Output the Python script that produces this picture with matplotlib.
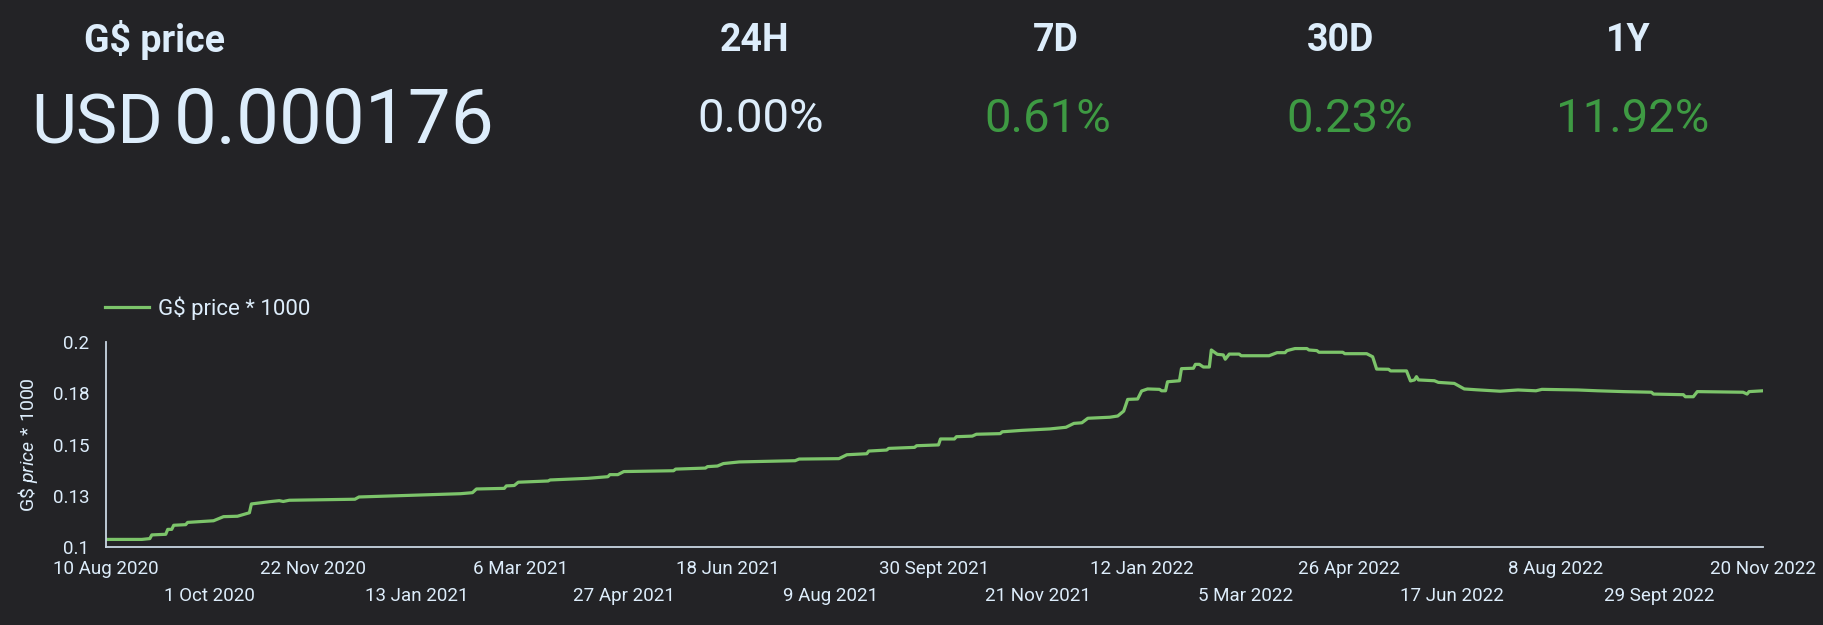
import numpy as np
import matplotlib
matplotlib.use("Agg")
import matplotlib.pyplot as plt

# ---- data ----
start_date = np.datetime64("2020-08-10")
day_offset = [0, 18, 22, 23, 30, 31, 33, 34, 40, 41, 54, 59, 66, 72, 73, 82, 87, 89, 92,
              125, 127, 178, 184, 186, 200, 201, 205, 207, 222, 223, 242, 252, 253, 257,
              260, 285, 286, 301, 302, 307, 310, 318, 346, 348, 368, 372, 382, 383, 392,
              393, 406, 407, 418, 419, 426, 427, 435, 437, 449, 450, 460, 474, 482, 486,
              490, 493, 504, 508, 511, 513, 518, 520, 523, 529, 530, 532, 533, 539, 540,
              546, 547, 549, 551, 554, 555, 558, 561, 562, 564, 569, 570, 584, 588, 592,
              593, 597, 603, 604, 608, 609, 621, 622, 633, 636, 638, 644, 645, 653, 655,
              657, 658, 659, 667, 669, 677, 679, 682, 688, 700, 709, 718, 721, 739, 749,
              762, 776, 777, 792, 793, 797, 799, 822, 824, 825, 832]
price_x1000 = [0.1037, 0.1037, 0.1041, 0.1059, 0.1062, 0.1086, 0.1086, 0.1106, 0.1109,
               0.1120, 0.1128, 0.1148, 0.1150, 0.1167, 0.1210, 0.1221, 0.1226, 0.1222,
               0.1228, 0.1233, 0.1244, 0.1260, 0.1265, 0.1283, 0.1286, 0.1298, 0.1300,
               0.1316, 0.1322, 0.1327, 0.1335, 0.1343, 0.1353, 0.1353, 0.1368, 0.1372,
               0.1380, 0.1385, 0.1392, 0.1395, 0.1407, 0.1415, 0.1421, 0.1429, 0.1431,
               0.1450, 0.1455, 0.1468, 0.1473, 0.1481, 0.1486, 0.1494, 0.1498, 0.1527,
               0.1527, 0.1538, 0.1541, 0.1550, 0.1553, 0.1562, 0.1569, 0.1576, 0.1584,
               0.1603, 0.1606, 0.1628, 0.1633, 0.1639, 0.1663, 0.1720, 0.1722, 0.1761,
               0.1771, 0.1769, 0.1762, 0.1762, 0.1806, 0.1811, 0.1870, 0.1872, 0.1891,
               0.1891, 0.1878, 0.1878, 0.1961, 0.1940, 0.1937, 0.1916, 0.1941, 0.1941,
               0.1933, 0.1933, 0.1948, 0.1948, 0.1958, 0.1968, 0.1968, 0.1961, 0.1958,
               0.1950, 0.1950, 0.1943, 0.1943, 0.1928, 0.1868, 0.1867, 0.1859, 0.1859,
               0.1810, 0.1815, 0.1831, 0.1815, 0.1811, 0.1803, 0.1798, 0.1787, 0.1771,
               0.1767, 0.1760, 0.1766, 0.1762, 0.1769, 0.1766, 0.1762, 0.1758, 0.1755,
               0.1746, 0.1743, 0.1733, 0.1733, 0.1758, 0.1755, 0.1746, 0.1758, 0.1762]

tick_dates = ["2020-08-10", "2020-10-01", "2020-11-22", "2021-01-13", "2021-03-06",
              "2021-04-27", "2021-06-18", "2021-08-09", "2021-09-30", "2021-11-21",
              "2022-01-12", "2022-03-05", "2022-04-26", "2022-06-17", "2022-08-08",
              "2022-09-29", "2022-11-20"]
tick_labels = ["10 Aug 2020", "1 Oct 2020", "22 Nov 2020", "13 Jan 2021", "6 Mar 2021",
               "27 Apr 2021", "18 Jun 2021", "9 Aug 2021", "30 Sept 2021", "21 Nov 2021",
               "12 Jan 2022", "5 Mar 2022", "26 Apr 2022", "17 Jun 2022", "8 Aug 2022",
               "29 Sept 2022", "20 Nov 2022"]
y_ticks = [0.1, 0.125, 0.15, 0.175, 0.2]
y_labels = ["0.1", "0.13", "0.15", "0.18", "0.2"]

header_titles = ["24H", "7D", "30D", "1Y"]
header_values = ["0.00%", "0.61%", "0.23%", "11.92%"]
currency = "USD"
current_price = "0.000176"

# ---- style ----
BG = "#232326"
TXT = "#ddedfb"
GREEN_TXT = "#3e9a43"
LINE = "#7cc46a"
AXIS = "#c9d6e3"

plt.rcParams['font.family'] = ['Roboto', 'DejaVu Sans']
plt.rcParams['mathtext.fontset'] = 'custom'
plt.rcParams['mathtext.rm'] = 'Roboto'
plt.rcParams['mathtext.it'] = 'Roboto:italic'

W, H = 1824, 625
fig = plt.figure(figsize=(W / 100, H / 100), dpi=100, facecolor=BG)

def fx(px):
    return px / W

def fy(py):
    return 1 - py / H

# header
fig.text(fx(155), fy(52), "G$ price", ha="center", va="baseline", fontsize=27,
         fontweight="bold", color=TXT)
fig.text(fx(163), fy(143), currency, ha="right", va="baseline", fontsize=50, color=TXT)
fig.text(fx(174), fy(143), current_price, ha="left", va="baseline", fontsize=55,
         color=TXT)
title_x = [755, 1056, 1341, 1628]
value_x = [761, 1048, 1350, 1633]
for i in range(len(header_titles)):
    fig.text(fx(title_x[i]), fy(51), header_titles[i], ha="center", va="baseline",
             fontsize=27, fontweight="bold", color=TXT)
    col = TXT if header_values[i] == "0.00%" else GREEN_TXT
    fig.text(fx(value_x[i]), fy(132), header_values[i], ha="center", va="baseline",
             fontsize=34, color=col)

# chart
ax_w = fx(1763) - fx(106)
ax = fig.add_axes([fx(106), fy(547), ax_w, fy(342) - fy(547)])
ax.set_facecolor(BG)
dates = start_date + np.array(day_offset).astype("timedelta64[D]")
ax.plot(dates, price_x1000, color=LINE, lw=2.3, label="G$ price * 1000")

ax.set_ylim(0.1, 0.2)
ax.set_xlim(np.datetime64(tick_dates[0]), np.datetime64(tick_dates[-1]))
ax.set_yticks(y_ticks)
ax.set_yticklabels(y_labels)

td = [np.datetime64(d) for d in tick_dates]
ax.set_xticks(td[0::2])
ax.set_xticklabels(tick_labels[0::2])
ax.set_xticks(td[1::2], minor=True)
ax.set_xticklabels(tick_labels[1::2], minor=True)

ax.tick_params(axis="x", which="major", length=0, pad=9, labelsize=13.5, colors=TXT)
ax.tick_params(axis="x", which="minor", length=0, pad=29, labelsize=13.5, colors=TXT)
ax.tick_params(axis="y", length=0, pad=12, labelsize=13.5, colors=TXT)

for s in ["top", "right"]:
    ax.spines[s].set_visible(False)
for s in ["left", "bottom"]:
    ax.spines[s].set_color(AXIS)
    ax.spines[s].set_linewidth(1.3)

ax.set_ylabel(r"G\$ $\mathit{price\ {*}\ 1000}$", fontsize=14, color=TXT)
ax.yaxis.set_label_coords((fx(40) - fx(106)) / ax_w, 0.5)

fig.legend(loc="center left", bbox_to_anchor=(fx(105), fy(308)), frameon=False,
           fontsize=16, labelcolor=TXT, handlelength=2.0, handletextpad=0.4,
           borderpad=0, borderaxespad=0)

fig.savefig("out.png", dpi=100, facecolor=BG)
